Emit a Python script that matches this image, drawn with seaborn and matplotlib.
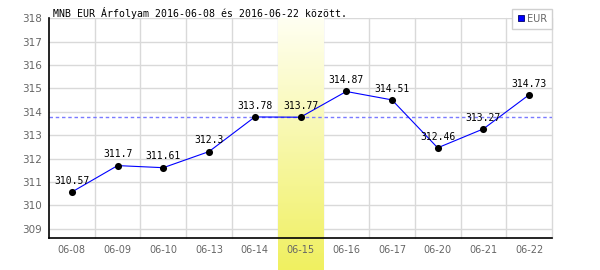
import numpy as np
import matplotlib
matplotlib.use("Agg")
import matplotlib.pyplot as plt
import matplotlib.transforms as mtransforms
from matplotlib.lines import Line2D
import seaborn as sns

# ---- data ----
dates = ["06-08", "06-09", "06-10", "06-13", "06-14", "06-15",
         "06-16", "06-17", "06-20", "06-21", "06-22"]
rates = [310.57, 311.7, 311.61, 312.3, 313.78, 313.77,
         314.87, 314.51, 312.46, 313.27, 314.73]
labels = ["310.57", "311.7", "311.61", "312.3", "313.78", "313.77",
          "314.87", "314.51", "312.46", "313.27", "314.73"]
highlight = "06-15"
ref_value = 313.77
yticks = [309, 310, 311, 312, 313, 314, 315, 316, 317, 318]
series_name = "EUR"
title = "MNB EUR Árfolyam 2016-06-08 és 2016-06-22 között."

sns.set_theme(style="white")
plt.rcParams["font.family"] = ["DejaVu Sans"]

fig = plt.figure(figsize=(6, 2.7), dpi=100)
ax = fig.add_axes([49 / 600, 1 - 238.3 / 270, (552 - 49) / 600, (238.3 - 18.3) / 270])
ax.set_facecolor("white")
ax.set_axisbelow(False)

x = np.arange(len(dates))
ax.set_xlim(-0.5, len(dates) - 0.5)
ax.set_ylim(308.59, 318)

# grid lines (drawn manually so the highlight band can cover them)
for yv in yticks:
    ax.axhline(yv, color="#d9d9d9", lw=1.0, zorder=0.2)
for xv in np.arange(0.5, len(dates) + 0.5, 1.0):
    ax.axvline(xv, color="#d9d9d9", lw=1.0, zorder=0.2, clip_on=False)

# highlight band with vertical gradient, extending to the figure bottom
hi = dates.index(highlight)
grad = np.linspace(0, 1, 256).reshape(-1, 1)
top_c = np.array([255, 255, 242]) / 255
bot_c = np.array([240, 240, 96]) / 255
img = top_c[None, None, :] * (1 - grad[:, :, None]) + bot_c[None, None, :] * grad[:, :, None]
blend = mtransforms.blended_transform_factory(ax.transData, fig.transFigure)
ax.imshow(img, extent=(hi - 0.5, hi + 0.5, 0, 1 - 18.3 / 270), origin="upper",
          transform=blend, aspect="auto", clip_on=False, zorder=0.5,
          interpolation="bilinear")
ax.set_xlim(-0.5, len(dates) - 0.5)
ax.set_ylim(308.59, 318)

# reference dashed line
ax.axhline(ref_value, color="#7a7aff", lw=1.0, linestyle=(0, (2.5, 2.0)), zorder=1)

# series
sns.lineplot(x=x, y=rates, ax=ax, color="#0000ff", lw=0.8, zorder=2)
sns.scatterplot(x=x, y=rates, ax=ax, color="black", edgecolor="black", s=26,
                linewidth=0, zorder=3)

for xi, yi, lab in zip(x, rates, labels):
    ax.annotate(lab, (xi, yi), xytext=(0, 4.5), textcoords="offset points",
                ha="center", va="bottom", fontsize=7, family="DejaVu Sans Mono",
                color="black", zorder=4)

# axes styling
ax.set_xticks(x)
ax.set_xticklabels(dates)
ax.set_yticks(yticks)
ax.set_yticklabels([str(v) for v in yticks])
ax.tick_params(axis="both", length=0, colors="#666666")
ax.tick_params(axis="x", labelsize=7, pad=4.5)
ax.tick_params(axis="y", labelsize=7.5, pad=5)
for s in ["top", "right"]:
    ax.spines[s].set_visible(False)
for s in ["left", "bottom"]:
    ax.spines[s].set_color("black")
    ax.spines[s].set_linewidth(1.2)
    ax.spines[s].set_zorder(2.5)
ax.set_xlabel("")
ax.set_ylabel("")

# title
fig.text(53 / 600, 1 - 13 / 270, title, ha="left", va="center",
         fontsize=7.1, family="DejaVu Sans Mono", color="black")

# legend
handle = Line2D([], [], linestyle="none", marker="s", markersize=5,
                markerfacecolor="#0000ff", markeredgecolor="#000066",
                markeredgewidth=0.6)
leg = fig.legend([handle], [series_name], loc="upper right",
                 bbox_to_anchor=(552 / 600, 1 - 9 / 270), frameon=True,
                 fancybox=False, shadow=False, fontsize=7, borderaxespad=0,
                 handlelength=0.8, handletextpad=0.2, borderpad=0.5,
                 labelcolor="#666666")
leg.get_frame().set_edgecolor("#d0d0d0")
leg.get_frame().set_linewidth(1.0)
leg.get_frame().set_facecolor("white")
leg.get_frame().set_alpha(1)

fig.savefig("out.png", dpi=100)
